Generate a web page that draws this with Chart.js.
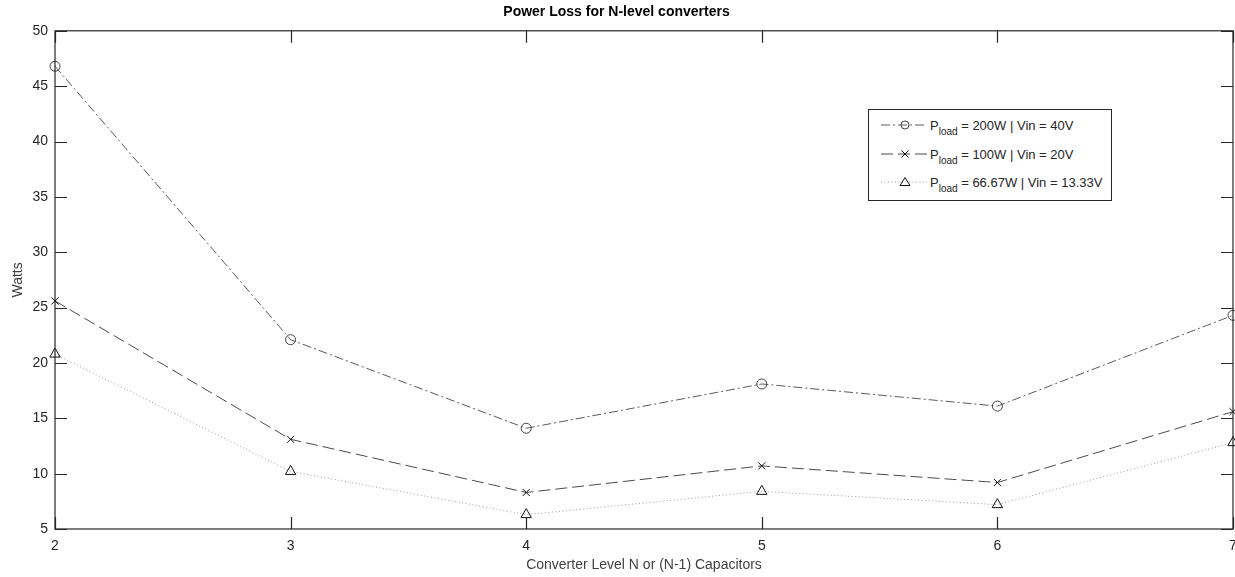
<!DOCTYPE html>
<html>
<head>
<meta charset="utf-8">
<script src="https://cdn.jsdelivr.net/npm/chart.js@4/dist/chart.umd.min.js"></script>
<style>
  html, body { margin: 0; padding: 0; background: #fff; }
  #wrap { position: relative; width: 1235px; height: 577px; }
  #legend {
    position: absolute; left: 868px; top: 109px; width: 244px; height: 92px;
    border: 1px solid #262626; background: #fff; box-sizing: border-box;
    font-family: "Liberation Sans", Arial, sans-serif; font-size: 13px; color: #262626;
  }
  #legend .row { position: absolute; left: 0; height: 20px; display: flex; align-items: center; }
  #legend svg { display: block; margin-left: 12px; margin-right: 3px; }
  #legend sub { font-size: 10px; vertical-align: -5px; line-height: 0; }
</style>
</head>
<body>
<div id="wrap">
  <canvas id="chart" width="1235" height="577"></canvas>
  <div id="legend"></div>
</div>
<script>
// --- DATA ---
const levels = [2, 3, 4, 5, 6, 7];
const loss200W = [46.8, 22.1, 14.1, 18.1, 16.1, 24.3];
const loss100W = [25.6, 13.1, 8.3, 10.7, 9.2, 15.6];
const loss66W = [20.8, 10.2, 6.3, 8.4, 7.2, 12.8];
const seriesNames = [
  ['P', 'load', ' = 200W | Vin = 40V'],
  ['P', 'load', ' = 100W | Vin = 20V'],
  ['P', 'load', ' = 66.67W | Vin = 13.33V']
];
const yTicks = [5, 10, 15, 20, 25, 30, 35, 40, 45, 50];
const xTicks = [2, 3, 4, 5, 6, 7];

const axisColor = '#262626';
const font = 'Liberation Sans, Arial, sans-serif';

const styles = [
  { color: '#5a5a5a', dash: [9, 3, 2, 3], point: 'circle', radius: 5, pointColor: '#444' },
  { color: '#4a4a4a', dash: [12, 5], point: 'crossRot', radius: 5, pointColor: '#111' },
  { color: '#9a9a9a', dash: [1, 2.5], point: 'triangle', radius: 6, pointColor: '#111' }
];

function toPoints(values) {
  return levels.map((x, i) => ({ x: x, y: values[i] }));
}

const allSeries = [loss200W, loss100W, loss66W];
const datasets = allSeries.map((vals, i) => ({
  label: seriesNames[i].join(''),
  data: toPoints(vals),
  borderColor: styles[i].color,
  borderWidth: 1,
  borderDash: styles[i].dash,
  pointStyle: styles[i].point,
  pointRadius: styles[i].radius,
  pointBorderColor: styles[i].pointColor,
  pointBackgroundColor: 'rgba(0,0,0,0)',
  pointBorderWidth: 1,
  fill: false,
  tension: 0,
  clip: false
}));

// frame with inward ticks on all four sides, like the original figure
const framePlugin = {
  id: 'frame',
  afterDatasetsDraw(chart) {
    const { ctx, chartArea: a, scales } = chart;
    ctx.save();
    ctx.strokeStyle = axisColor;
    ctx.lineWidth = 1.2;
    ctx.setLineDash([]);
    ctx.strokeRect(a.left, a.top, a.right - a.left, a.bottom - a.top);
    const len = 12;
    ctx.beginPath();
    xTicks.forEach(v => {
      const px = Math.round(scales.x.getPixelForValue(v)) + 0.5;
      ctx.moveTo(px, a.bottom); ctx.lineTo(px, a.bottom - len);
      ctx.moveTo(px, a.top); ctx.lineTo(px, a.top + len);
    });
    yTicks.forEach(v => {
      const py = Math.round(scales.y.getPixelForValue(v)) + 0.5;
      ctx.moveTo(a.left, py); ctx.lineTo(a.left + len, py);
      ctx.moveTo(a.right, py); ctx.lineTo(a.right - len, py);
    });
    ctx.stroke();
    ctx.restore();
  }
};

new Chart(document.getElementById('chart'), {
  type: 'line',
  data: { datasets: datasets },
  plugins: [framePlugin],
  options: {
    responsive: false,
    animation: false,
    layout: { autoPadding: false, padding: { left: 0, right: 2, top: 0, bottom: 0 } },
    plugins: {
      legend: { display: false },
      tooltip: { enabled: false },
      title: {
        display: true,
        text: 'Power Loss for N-level converters',
        color: '#000',
        font: { family: font, size: 14, weight: 'bold' },
        padding: { top: 4, bottom: 10 }
      }
    },
    scales: {
      x: {
        type: 'linear',
        min: 2, max: 7,
        grid: { display: false, drawTicks: false, tickLength: 0 },
        border: { display: false },
        afterBuildTicks(scale) { scale.ticks = xTicks.map(v => ({ value: v })); },
        afterFit(scale) {
          scale.height = 48;
          scale.paddingLeft = 0;
          scale.paddingRight = 0;
        },
        ticks: {
          color: axisColor, padding: 9, maxRotation: 0,
          font: { family: font, size: 14 }
        },
        title: {
          display: true,
          text: 'Converter Level N or (N-1) Capacitors',
          color: '#404040',
          font: { family: font, size: 14 },
          padding: { top: 2, bottom: 3 }
        }
      },
      y: {
        type: 'linear',
        min: 5, max: 50,
        grid: { display: false, drawTicks: false, tickLength: 0 },
        border: { display: false },
        afterBuildTicks(scale) { scale.ticks = yTicks.map(v => ({ value: v })); },
        afterFit(scale) { scale.width = 55; },
        ticks: {
          color: axisColor, padding: 7,
          font: { family: font, size: 14 }
        },
        title: {
          display: true,
          text: 'Watts',
          color: '#404040',
          font: { family: font, size: 14 },
          padding: { top: 10, bottom: 0 }
        }
      }
    }
  }
});

// legend with subscripted "load", drawn as HTML
const legend = document.getElementById('legend');
const rowTops = [5, 34, 62];
seriesNames.forEach((parts, i) => {
  const s = styles[i];
  const row = document.createElement('div');
  row.className = 'row';
  row.style.top = rowTops[i] + 'px';
  let marker = '';
  if (s.point === 'circle') {
    marker = '<circle cx="24" cy="10" r="4" fill="none" stroke="' + s.pointColor + '" stroke-width="1"/>';
  } else if (s.point === 'crossRot') {
    marker = '<path d="M20.5 6.5 L27.5 13.5 M27.5 6.5 L20.5 13.5" stroke="' + s.pointColor + '" stroke-width="1"/>';
  } else {
    marker = '<path d="M24 5.5 L29 13.5 L19 13.5 Z" fill="none" stroke="' + s.pointColor + '" stroke-width="1"/>';
  }
  row.innerHTML =
    '<svg width="46" height="20"><line x1="0" y1="10" x2="46" y2="10" stroke="' + s.color +
    '" stroke-width="1" stroke-dasharray="' + s.dash.join(' ') + '"/>' + marker + '</svg>' +
    '<span>' + parts[0] + '<sub>' + parts[1] + '</sub>' + parts[2] + '</span>';
  legend.appendChild(row);
});
</script>
</body>
</html>
